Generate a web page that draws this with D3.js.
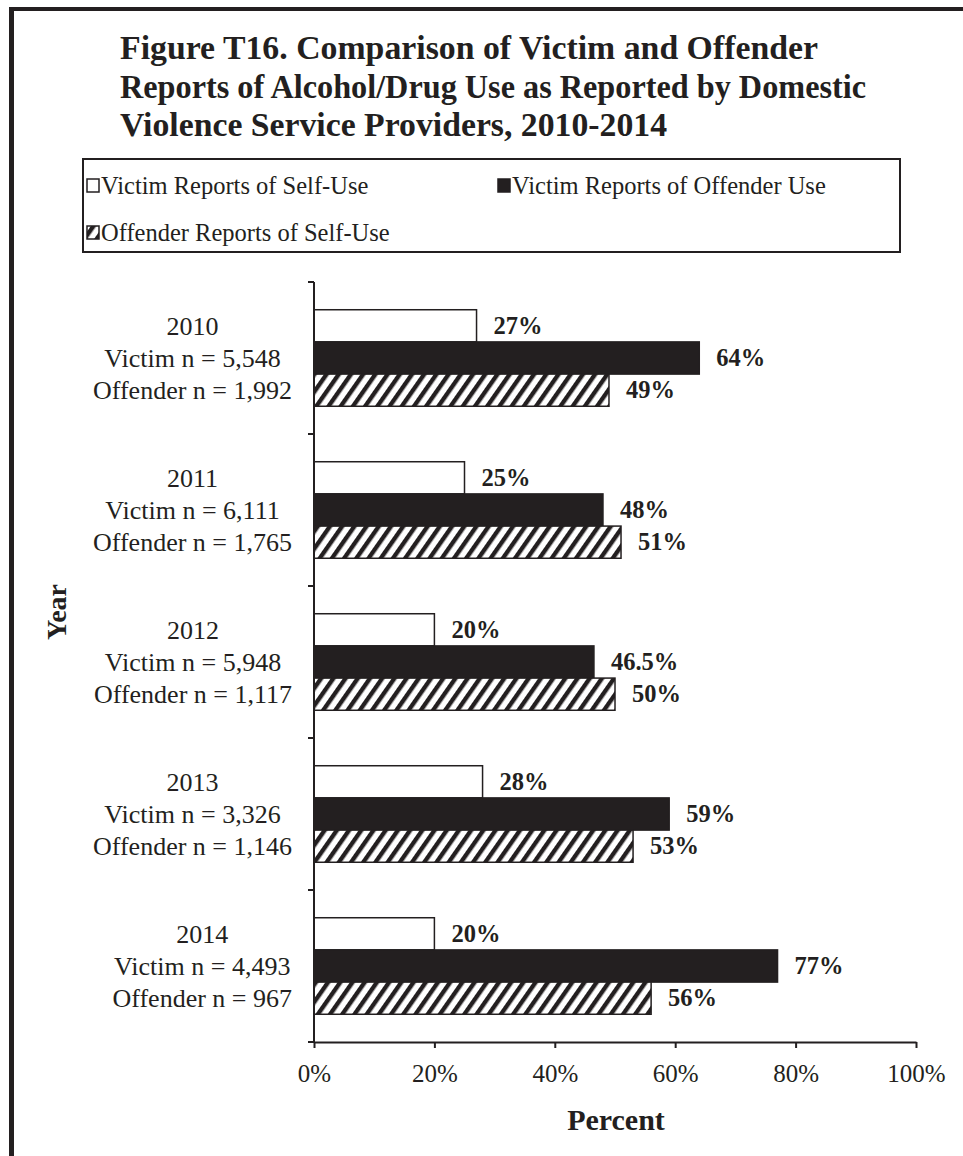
<!DOCTYPE html>
<html><head><meta charset="utf-8">
<script src="https://cdn.jsdelivr.net/npm/d3@7"></script>
<style>html,body{margin:0;padding:0;background:#fff;}svg{display:block;}</style>
</head><body>
<script>
const years = ["2010","2011","2012","2013","2014"];
const victimN = ["5,548","6,111","5,948","3,326","4,493"];
const offenderN = ["1,992","1,765","1,117","1,146","967"];
const seriesNames = ["Victim Reports of Self-Use","Victim Reports of Offender Use","Offender Reports of Self-Use"];
const victimSelf = [27,25,20,28,20];
const victimOffender = [64,48,46.5,59,77];
const offenderSelf = [49,51,50,53,56];
const xTicks = [0,20,40,60,80,100];
const titleLines = ["Figure T16.  Comparison of Victim and Offender","Reports of Alcohol/Drug Use as Reported by Domestic","Violence Service Providers, 2010-2014"];

const W=963,H=1156, ink="#231f20", font="'Liberation Serif','Times New Roman',serif";
const svg=d3.select("body").append("svg").attr("width",W).attr("height",H).style("font-family",font);
const defs=svg.append("defs");
const pat=defs.append("pattern").attr("id","hatch").attr("patternUnits","userSpaceOnUse")
  .attr("width",10).attr("height",10).attr("patternTransform","rotate(35)");
pat.append("rect").attr("width",10).attr("height",10).attr("fill","#fff");
pat.append("rect").attr("width",4.4).attr("height",10).attr("fill",ink);

// frame
svg.append("rect").attr("x",9).attr("y",7).attr("width",5).attr("height",H).attr("fill",ink);
svg.append("rect").attr("x",9).attr("y",7).attr("width",W).attr("height",4).attr("fill",ink);

// title
const tY=[59,98,136];
svg.append("g").selectAll("text").data(titleLines).join("text")
  .attr("x",120).attr("y",(d,i)=>tY[i]).attr("font-weight","bold").attr("font-size",33)
  .attr("fill",ink).text(d=>d).attr("textLength",(d,i)=>[698,746,547][i]).attr("lengthAdjust","spacingAndGlyphs");

// legend
svg.append("rect").attr("x",83).attr("y",159).attr("width",817).attr("height",93).attr("fill","#fff").attr("stroke",ink).attr("stroke-width",2);
const fills=["#fff",ink,"url(#hatch)"];
const legPos=[[86,186],[497,186],[86,233]];
const lg=svg.append("g").selectAll("g").data(seriesNames).join("g").attr("transform",(d,i)=>`translate(${legPos[i][0]},${legPos[i][1]})`);
lg.append("rect").attr("x",1).attr("y",-7).attr("width",12).attr("height",13).attr("fill",(d,i)=>fills[i]).attr("stroke",ink).attr("stroke-width",1.5);
lg.append("text").attr("x",15).attr("y",8).attr("font-size",24.5).attr("fill",ink).text(d=>d);

// scales
const x=d3.scaleLinear().domain([0,100]).range([314,916]);
const y=d3.scaleBand().domain(years).range([282,1042]).paddingInner(0.365).paddingOuter(0.1825);
const sub=d3.scaleBand().domain([0,1,2]).range([0,y.bandwidth()]);
const series=[victimSelf,victimOffender,offenderSelf];

const gBars=svg.append("g");
series.forEach((vals,s)=>{
  gBars.append("g").selectAll("rect").data(vals).join("rect")
   .attr("x",x(0)).attr("y",(d,i)=>y(years[i])+sub(s)).attr("width",d=>x(d)-x(0)).attr("height",sub.bandwidth())
   .attr("fill",fills[s]).attr("stroke",ink).attr("stroke-width",1.5);
  gBars.append("g").selectAll("text").data(vals).join("text")
   .attr("x",d=>x(d)+17).attr("y",(d,i)=>y(years[i])+sub(s)+sub.bandwidth()/2+8)
   .attr("font-size",24.5).attr("font-weight","bold").attr("fill",ink).text(d=>d+"%");
});

// axes
const xAxis=d3.axisBottom(x).tickValues(xTicks).tickFormat(d=>d+"%").tickSize(6).tickSizeOuter(0);
const gx=svg.append("g").attr("transform","translate(0,1042)").call(xAxis);
gx.select(".domain").attr("stroke",ink).attr("stroke-width",2);
gx.selectAll(".tick line").attr("stroke",ink).attr("stroke-width",2);
gx.selectAll(".tick text").attr("font-family",font).attr("font-size",25).attr("fill",ink).attr("y",40).attr("dy",0);

const bounds=d3.range(years.length+1).map(i=>282+i*(760/years.length));
const gy=svg.append("g");
gy.append("line").attr("x1",314).attr("x2",314).attr("y1",282).attr("y2",1042).attr("stroke",ink).attr("stroke-width",2);
gy.selectAll("line.t").data(bounds).join("line").attr("class","t").attr("x1",308).attr("x2",314).attr("y1",d=>d).attr("y2",d=>d).attr("stroke",ink).attr("stroke-width",2);

// category labels
years.forEach((yr,i)=>{
  const lines=[yr,"Victim n = "+victimN[i],"Offender n = "+offenderN[i]];
  const g=svg.append("g");
  const t=g.selectAll("text").data(lines).join("text").attr("font-size",26).attr("fill",ink)
    .attr("y",(d,j)=>y(yr)+sub(j)+sub.bandwidth()/2+9).text(d=>d).attr("text-anchor","middle");
  let maxW=0; t.each(function(){maxW=Math.max(maxW,this.getComputedTextLength());});
  t.attr("x",292-maxW/2);
});

// axis titles
svg.append("text").attr("transform","translate(66,612) rotate(-90)").attr("text-anchor","middle")
  .attr("font-size",28).attr("font-weight","bold").attr("fill",ink).text("Year");
svg.append("text").attr("x",616).attr("y",1130).attr("text-anchor","middle")
  .attr("font-size",30).attr("font-weight","bold").attr("fill",ink).text("Percent");
</script>
</body></html>
